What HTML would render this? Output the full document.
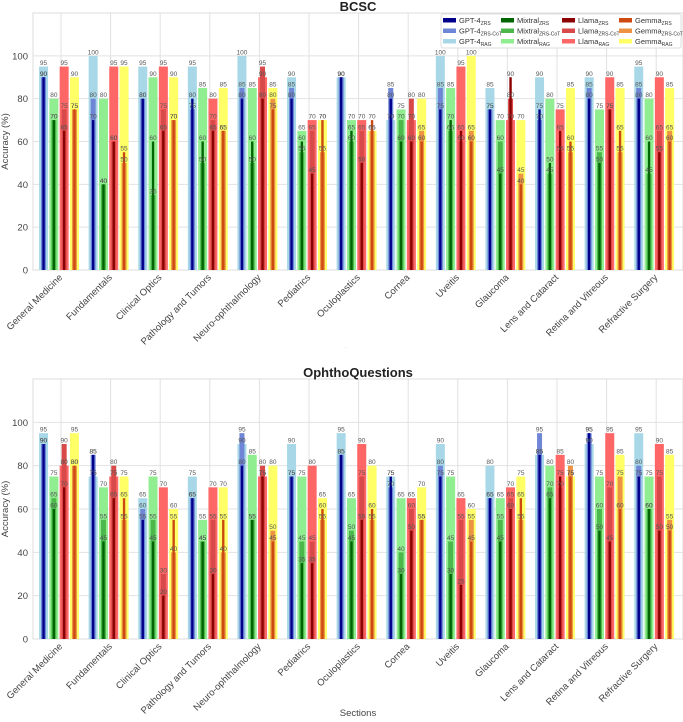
<!DOCTYPE html>
<html><head><meta charset="utf-8"><style>
body{margin:0;background:#fff;}
svg{display:block;font-family:"Liberation Sans","DejaVu Sans",sans-serif;}
</style></head><body>
<svg id="chart" width="683" height="722" viewBox="0 0 683 722" xmlns="http://www.w3.org/2000/svg"></svg>
<script>
const categories=["General Medicine","Fundamentals","Clinical Optics","Pathology and Tumors","Neuro-ophthalmology","Pediatrics","Oculoplastics","Cornea","Uveitis","Glaucoma","Lens and Cataract","Retina and Vitreous","Refractive Surgery"];
const models=["GPT-4","Mixtral","Llama","Gemma"];
const yTicks=[0,20,40,60,80,100];
const bcscGptZrs=[90,70,80,80,80,80,90,80,75,75,75,80,80];
const bcscGptCot=[90,80,80,75,85,85,90,85,85,75,70,85,85];
const bcscGptRag=[95,100,95,95,100,90,90,70,100,85,90,90,95];
const bcscMixZrs=[70,40,60,60,60,60,65,60,70,45,50,50,60];
const bcscMixCot=[70,40,35,50,50,55,60,70,65,60,45,55,45];
const bcscMixRag=[80,80,90,85,85,65,70,75,85,70,80,75,80];
const bcscLlaZrs=[65,60,65,65,80,45,50,60,65,90,65,75,55];
const bcscLlaCot=[75,60,75,70,95,65,65,80,60,80,55,75,65];
const bcscLlaRag=[95,95,95,80,90,70,70,70,95,70,75,90,90];
const bcscGemZrs=[75,55,70,65,75,70,70,60,60,40,60,65,60];
const bcscGemCot=[75,50,70,65,80,55,65,65,65,45,55,55,65];
const bcscGemRag=[90,95,90,85,85,70,65,80,100,70,85,85,85];
const oqGptZrs=[90,85,55,65,80,75,85,75,75,65,85,95,75];
const oqGptCot=[90,85,60,65,95,75,85,70,80,65,95,95,80];
const oqGptRag=[95,75,65,75,90,90,95,75,90,80,85,90,95];
const oqMixZrs=[60,45,45,45,55,35,45,30,30,45,65,50,60];
const oqMixCot=[65,55,55,45,55,45,50,40,45,55,70,60,60];
const oqMixRag=[75,70,75,55,85,75,65,65,75,65,80,75,75];
const oqLlaZrs=[70,65,20,30,75,35,55,50,25,60,75,45,50];
const oqLlaCot=[90,80,30,55,80,45,75,60,55,65,70,70,75];
const oqLlaRag=[80,75,70,70,75,80,90,65,65,70,85,95,90];
const oqGemZrs=[80,65,55,55,45,60,60,55,45,65,75,60,50];
const oqGemCot=[80,55,40,40,50,55,55,55,55,55,80,75,55];
const oqGemRag=[95,75,60,70,80,65,80,70,60,75,75,85,85];

const colZrs=["#00008b","#006400","#8b0000","#cc4a10"];
const colCot=["#6f86d6","#4cb84c","#d84a4a","#ec9444"];
const colRag=["#a8d8e8","#90ee90","#ff6666","#ffff66"];
const NS="http://www.w3.org/2000/svg";
const svg=document.getElementById("chart");
function mk(tag,attrs,parent){const e=document.createElementNS(NS,tag);for(const k in attrs)e.setAttribute(k,attrs[k]);(parent||svg).appendChild(e);return e;}

function panel(title,top,bottom,showLegend,zrs,cot,rag,pname){
  const left=33,right=683;
  const y=v=>bottom-(v/120)*(bottom-top);
  const catX=i=>61+i*49.6;
  const g=mk("g",{});
  
  
  yTicks.forEach(t=>{
    const l=mk("line",{x1:left,x2:right,y1:y(t),y2:y(t),stroke:"#e2e2e2","stroke-width":1},g);
    
    
    const tx=mk("text",{x:left-5,y:y(t)+3.5,"text-anchor":"end","font-size":"9.5",fill:"#444"},g);
    tx.textContent=t;
    
    
  });
  categories.forEach((c,i)=>{
    const l=mk("line",{x1:catX(i),x2:catX(i),y1:top,y2:bottom,stroke:"#e2e2e2","stroke-width":1},g);
    
    
  });
  const fr=mk("rect",{x:left,y:top,width:right-left,height:bottom-top,fill:"none",stroke:"#dcdcdc"},g);
  
  
  categories.forEach((c,i)=>{
    for(let m=0;m<4;m++){
      const cx=catX(i)-2+(m-1.5)*10.3;
      const specs=[[rag[m][i],9,colRag[m]],[cot[m][i],5,colCot[m]],[zrs[m][i],2.4,colZrs[m]]];
      specs.forEach((s,k)=>{
        const r=mk("rect",{x:cx-s[1]/2,y:y(s[0]),width:s[1],height:bottom-y(s[0]),fill:s[2]},g);
        
        
      });
      specs.forEach(s=>{
        const t=mk("text",{x:cx,y:y(s[0])-1.5,"text-anchor":"middle","font-size":"6.5",fill:"#555"},g);
        t.textContent=s[0];
        
        
      });
    }
    const xl=mk("text",{x:catX(i)+2,y:bottom+8,"text-anchor":"end","font-size":"9.5",fill:"#444",transform:`rotate(-45 ${catX(i)+2} ${bottom+8})`},g);
    xl.textContent=c;
    
    
  });
  const tt=mk("text",{x:358,y:top-2,"text-anchor":"middle","font-size":"13","font-weight":"bold",fill:"#222"},g);
  tt.textContent=title;
  
  
  const yl=mk("text",{x:8,y:(top+bottom)/2,"text-anchor":"middle","font-size":"9.5",fill:"#444",transform:`rotate(-90 8 ${(top+bottom)/2})`},g);
  yl.textContent="Accuracy (%)";
  
  
  if(showLegend){
    const lg=mk("g",{},g);
    
    
    mk("rect",{x:441,y:14,width:240,height:34,fill:"#fff","fill-opacity":"0.9",stroke:"#ddd",rx:2},lg);
    const colx=[443,501,562,619];
    const rows=[["ZRS",colZrs],["ZRS-CoT",colCot],["RAG",colRag]];
    for(let m=0;m<4;m++){rows.forEach((r,k)=>{
      const yy=18+k*10.5;
      const sw=mk("rect",{x:colx[m],y:yy,width:13,height:4.5,fill:r[1][m]},lg);
      
      
      const t=mk("text",{x:colx[m]+16,y:yy+5,"font-size":"7.5",fill:"#333"},lg);
      t.innerHTML=models[m]+'<tspan font-size="5" dy="2">'+r[0]+'</tspan>';
      
      
    });}
  }
}
panel("BCSC",13,270,true,[bcscGptZrs,bcscMixZrs,bcscLlaZrs,bcscGemZrs],[bcscGptCot,bcscMixCot,bcscLlaCot,bcscGemCot],[bcscGptRag,bcscMixRag,bcscLlaRag,bcscGemRag],"bcsc");
panel("OphthoQuestions",379,639,false,[oqGptZrs,oqMixZrs,oqLlaZrs,oqGemZrs],[oqGptCot,oqMixCot,oqLlaCot,oqGemCot],[oqGptRag,oqMixRag,oqLlaRag,oqGemRag],"ophtho");
const s1=mk("text",{x:345,y:349,"text-anchor":"middle","font-size":"6",fill:"#ccc"});
s1.textContent="··";


const s2=mk("text",{x:358,y:716,"text-anchor":"middle","font-size":"9.5",fill:"#444"});
s2.textContent="Sections";


</script>
</body></html>
